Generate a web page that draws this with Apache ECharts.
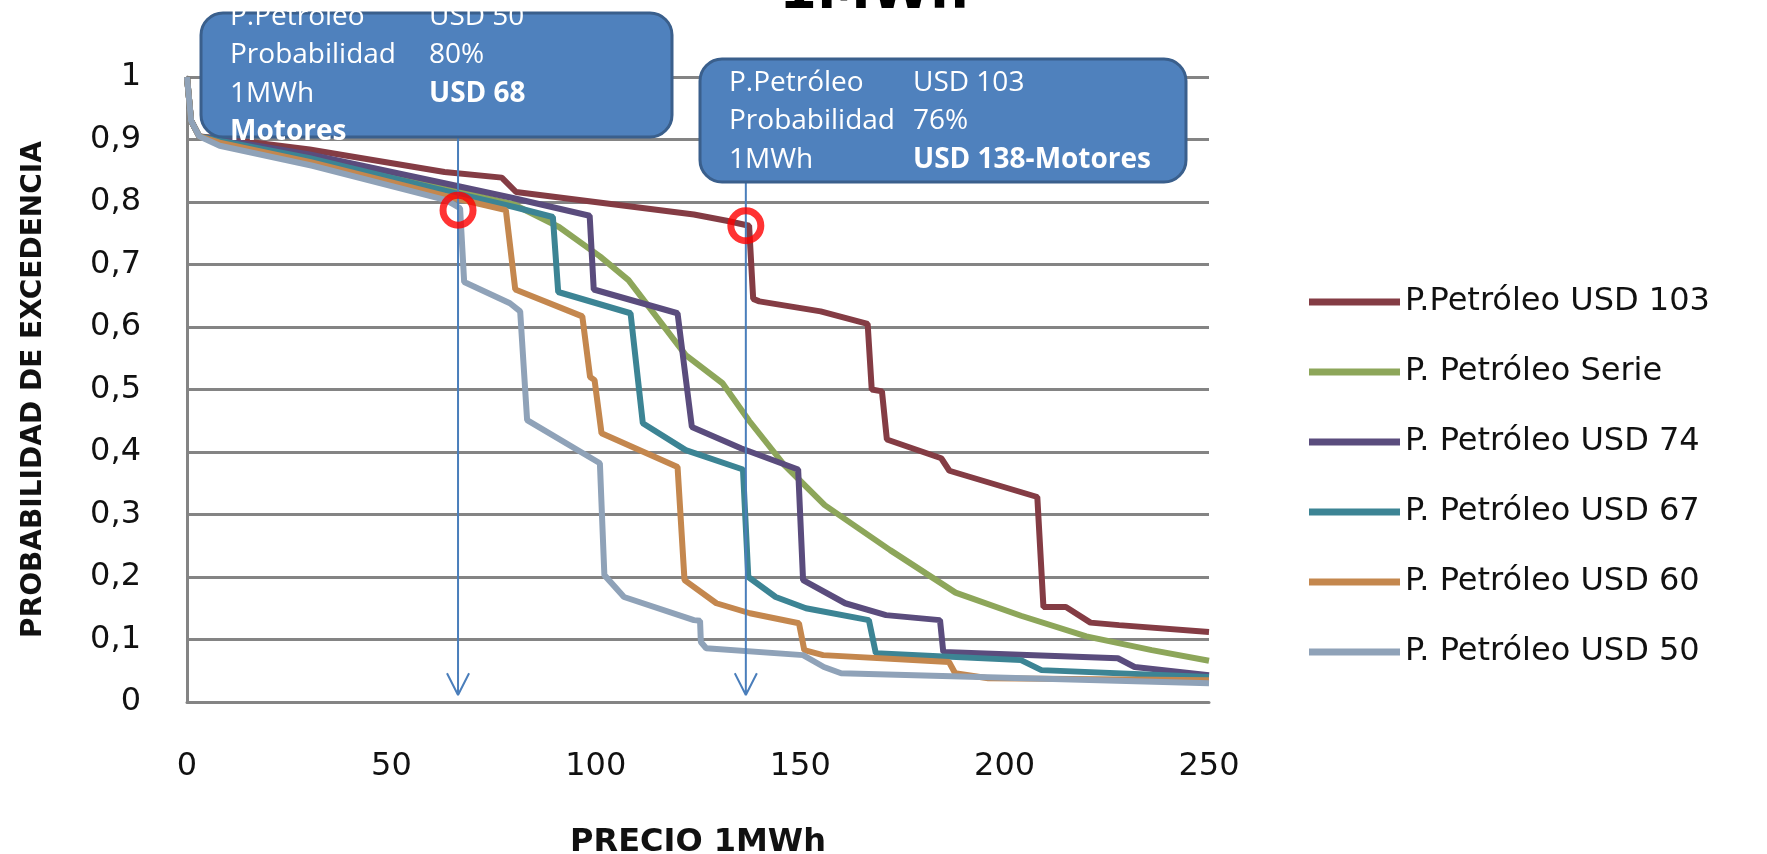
<!DOCTYPE html>
<html><head><meta charset="utf-8">
<script src="https://cdn.jsdelivr.net/npm/echarts@6/dist/echarts.min.js"></script>
<style>html,body{margin:0;padding:0;background:#fff}#c{width:1767px;height:854px}</style>
</head><body><div id="c"></div>
<script>
// ---- data ----
const seriesNames = ['P.Petróleo USD 103','P. Petróleo Serie','P. Petróleo USD 74','P. Petróleo USD 67','P. Petróleo USD 60','P. Petróleo USD 50'];
const seriesColors = ['#843C44','#8DA65A','#5A4C7D','#3C8494','#C4874E','#8FA2B8'];
const usd103 = [[0,1],[1,0.93],[3,0.905],[8,0.902],[30,0.884],[63,0.848],[77,0.839],[80.5,0.816],[124,0.78],[132,0.77],[137.5,0.762],[138.5,0.645],[140,0.641],[155,0.625],[166.5,0.605],[167.5,0.5],[170,0.497],[171.2,0.42],[184.5,0.39],[186.5,0.37],[208,0.328],[209.5,0.152],[215,0.152],[221,0.127],[228,0.123],[250,0.112]];
const serie = [[0,1],[1,0.93],[3,0.905],[8,0.9],[30,0.872],[63,0.822],[80,0.796],[91,0.76],[101,0.713],[108,0.675],[115,0.615],[122,0.555],[131,0.51],[137.5,0.45],[146,0.38],[156,0.315],[172,0.243],[188,0.175],[204,0.138],[220,0.105],[236,0.083],[250,0.066]];
const usd74 = [[0,1],[1,0.93],[3,0.905],[8,0.9],[30,0.876],[63,0.83],[80,0.806],[98.5,0.778],[99.5,0.66],[120,0.622],[123.5,0.44],[135.5,0.406],[149.5,0.372],[150.7,0.195],[161,0.158],[171,0.139],[184.2,0.131],[185,0.08],[227.7,0.07],[231.8,0.056],[250,0.043]];
const usd67 = [[0,1],[1,0.93],[3,0.905],[8,0.898],[30,0.87],[63,0.818],[80,0.792],[89.5,0.776],[90.8,0.656],[108.5,0.622],[111.5,0.446],[122,0.403],[136,0.372],[137.3,0.2],[144,0.168],[151.4,0.15],[166.8,0.131],[168.5,0.078],[204,0.067],[209,0.051],[250,0.04]];
const usd60 = [[0,1],[1,0.93],[3,0.905],[8,0.895],[30,0.864],[63,0.81],[78,0.787],[80.3,0.66],[96.7,0.617],[98.6,0.52],[99.7,0.515],[101.4,0.43],[120,0.376],[121.7,0.195],[129.5,0.158],[137.7,0.142],[149.7,0.126],[151,0.083],[155.6,0.075],[186.4,0.064],[187.9,0.046],[196,0.038],[250,0.035]];
const usd50 = [[0,1],[1,0.93],[3,0.905],[8,0.89],[30.7,0.858],[63.4,0.803],[66.8,0.79],[67.8,0.672],[79,0.638],[81.5,0.625],[83.2,0.451],[101,0.382],[102.1,0.203],[106.9,0.168],[124,0.131],[125.5,0.13],[125.7,0.096],[127,0.086],[150.7,0.075],[155.8,0.056],[160,0.046],[250,0.03]];
const allSeries = [usd103, serie, usd74, usd67, usd60, usd50];

const yTickLabels = ['0','0,1','0,2','0,3','0,4','0,5','0,6','0,7','0,8','0,9','1'];
const xTickValues = [0,50,100,150,200,250];

// annotation points (price, probability)
const markedPoints = [[66.3,0.787],[136.7,0.762]];
const arrow1 = [[66.3,0.95],[66.3,0.0112],[63.6,0.046],[66.3,0.0112],[69.0,0.046]];
const arrow2 = [[136.7,0.95],[136.7,0.0112],[134.0,0.046],[136.7,0.0112],[139.4,0.046]];

const box1Lines = [['P.Petroleo','USD 50',false],['Probabilidad','80%',false],['1MWh','USD 68',true],['Motores','',true]];
const box2Lines = [['P.Petróleo','USD 103',false],['Probabilidad','76%',false],['1MWh','USD 138-Motores',true]];

// ---- chart ----
const chart = echarts.init(document.getElementById('c'));
const gray = '#848484';
const series = allSeries.map((d,i)=>({
  name: seriesNames[i], type:'line', data:d, symbol:'none', smooth:false,
  lineStyle:{width:6,color:seriesColors[i]}, itemStyle:{color:seriesColors[i]}, z:2+i
}));
[arrow1, arrow2].forEach(a=>series.push({
  type:'line', data:a, symbol:'none', lineStyle:{width:2,color:'#4A7EBB'}, z:10, silent:true
}));
series.push({type:'scatter', data:markedPoints, symbol:'circle', symbolSize:30,
  itemStyle:{color:'rgba(0,0,0,0)',borderColor:'#FF0000',borderWidth:7}, z:11});

const graphics = [];
function addBox(x,y,w,h,lines,c1x,c2x,y0,dy){
  graphics.push({type:'rect', shape:{x:x,y:y,width:w,height:h,r:22}, z:100,
    style:{fill:'#4F81BD',stroke:'#3A5F8C',lineWidth:3}});
  lines.forEach((l,k)=>{
    const yy = y0 + k*dy;
    graphics.push({type:'text', z:101, style:{text:l[0], x:c1x, y:yy, fill:'#fff',
      font:(l[0]==='Motores'?'bold ':'')+'28px "Open Sans"', verticalAlign:'middle', align:'left'}});
    if(l[1]) graphics.push({type:'text', z:101, style:{text:l[1], x:c2x, y:yy, fill:'#fff',
      font:(l[2]?'bold ':'')+'28px "Open Sans"', verticalAlign:'middle', align:'left'}});
  });
}
addBox(201,13,471,124,box1Lines,230,429,17,38.5);
addBox(700,59,486,123,box2Lines,729,913,83,38.5);
graphics.push({type:'text', z:101, style:{text:'1MWh', x:874, y:-6, fill:'#000',
  font:'bold 54px "DejaVu Sans"', align:'center', verticalAlign:'middle'}});

chart.setOption({
  animation:false,
  backgroundColor:'#fff',
  grid:{left:187,right:558,top:77,bottom:152,containLabel:false,outerBoundsMode:'none'},
  legend:{data:seriesNames, orient:'vertical', left:1304, top:281, itemWidth:91, itemHeight:7,
    itemGap:38, icon:'rect', textStyle:{fontFamily:'DejaVu Sans',fontSize:32,lineHeight:32,color:'#111'}},
  xAxis:{type:'value', min:0, max:250, interval:50,
    axisLine:{show:true,lineStyle:{color:gray,width:3}}, axisTick:{show:false}, splitLine:{show:false},
    axisLabel:{fontFamily:'DejaVu Sans',fontSize:32,color:'#111',margin:49,
      formatter:v=>String(xTickValues[Math.round(v/50)])},
    name:'PRECIO 1MWh', nameLocation:'middle', nameGap:125,
    nameTextStyle:{fontFamily:'DejaVu Sans',fontWeight:'bold',fontSize:32,color:'#111'}},
  yAxis:{type:'value', min:0, max:1, interval:0.1,
    axisLine:{show:true,lineStyle:{color:gray,width:3}}, axisTick:{show:false},
    splitLine:{show:true,lineStyle:{color:gray,width:3}},
    axisLabel:{fontFamily:'DejaVu Sans',fontSize:32,color:'#111',margin:46,
      formatter:v=>yTickLabels[Math.round(v*10)]},
    name:'PROBABILIDAD DE EXCEDENCIA', nameLocation:'middle', nameGap:139, nameRotate:90,
    nameTextStyle:{fontFamily:'DejaVu Sans',fontWeight:'bold',fontSize:28,color:'#111'}},
  series:series,
  graphic:graphics
});
</script></body></html>
